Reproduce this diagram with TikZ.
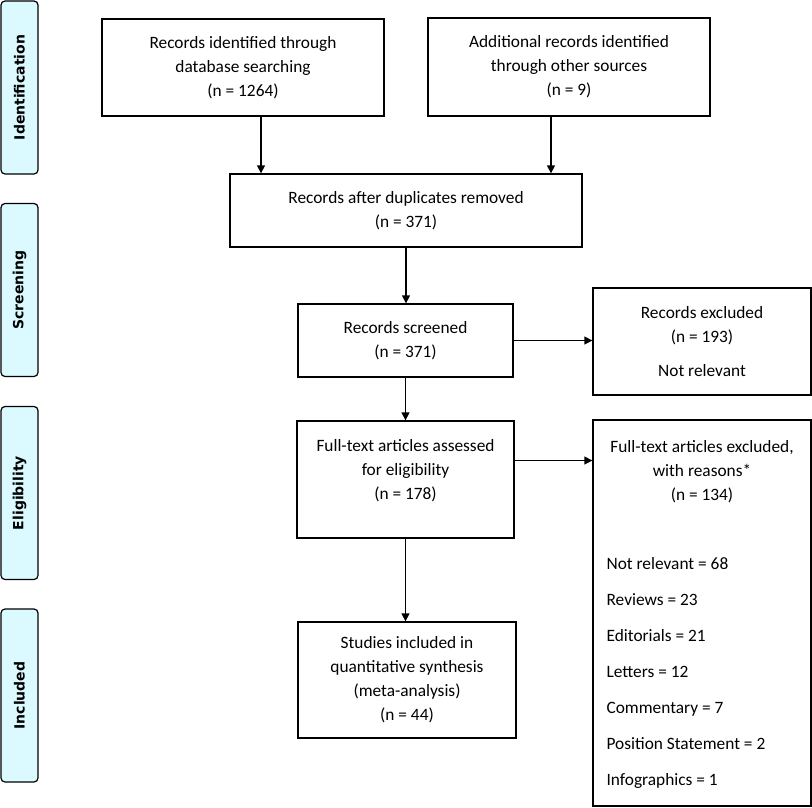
\documentclass[tikz,border=0pt]{standalone}
\usepackage{fontspec}
\setmainfont{Carlito}
\newfontfamily\barfont{DejaVu Sans}
\usetikzlibrary{arrows.meta,calc}
\definecolor{barcyan}{RGB}{218,250,255}

\begin{document}
\begin{tikzpicture}[x=0.75pt,y=-0.75pt]
\tikzstyle{every node}=[font=\fontsize{13}{18}\selectfont]
\tikzstyle{box}=[draw, line width=1pt, align=center, inner sep=0pt]
\tikzstyle{bar}=[draw, line width=0.9pt, fill=barcyan, rounded corners=3pt, rotate=90, inner sep=0pt, minimum width=129.75pt, minimum height=27.75pt, font=\barfont\bfseries\fontsize{10.5}{12}\selectfont]
\tikzstyle{arr}=[line width=1pt, -{Triangle[length=6pt,width=6pt]}]
	\useasboundingbox (0,0) rectangle (812,807);

	% phase bars on the left
	\node[bar] (identbar) at (19.5,87.5) {Identification};
	\node[bar] (screenbar) at (19.5,290) {Screening};
	\node[bar] (eligbar) at (19.5,493) {Eligibility};
	\node[bar] (inclbar) at (19.5,695.5) {Included};

	% boxes
	\node[box, minimum width=211.5pt, minimum height=72.75pt] (rec1) at (243,67.5) {Records identified through\\database searching\\(n = 1264)};
	\node[box, minimum width=211.5pt, minimum height=73.5pt] (rec2) at (569,67) {Additional records identified\\through other sources\\(n = 9)};
	\node[box, minimum width=264pt, minimum height=54.75pt] (dedup) at (406,210.5) {Records after duplicates removed\\(n = 371)};
	\node[box, minimum width=161.25pt, minimum height=54.75pt] (screened) at (405.5,340.5) {Records screened\\(n = 371)};
	\node[box, minimum width=163.5pt, minimum height=80.25pt] (excl1) at (702,341.5) {Records excluded\\(n = 193)\\[7.5pt]Not relevant};
	\node[box, minimum width=162.75pt, minimum height=87.75pt] (fulltext) at (405.5,479.5) {Full-text articles assessed\\for eligibility\\(n = 178)\\[-9pt]\strut};
	\node[box, minimum width=163.5pt, minimum height=289.5pt] (excl2) at (702,613) {};
	\node[align=center, inner sep=0pt, anchor=north] (excl2head) at ($(excl2.north)+(0,21)$) {Full-text articles excluded,\\with reasons*\\(n = 134)};
	\node[align=left, inner sep=0pt, anchor=north west, font=\fontsize{13}{27}\selectfont] (excl2list) at ($(excl2.north west)+(14,138)$) {Not relevant = 68\\Reviews = 23\\Editorials = 21\\Letters = 12\\Commentary = 7\\Position Statement = 2\\Infographics = 1};
	\node[box, minimum width=163.5pt, minimum height=87pt] (included) at (407,680) {Studies included in\\quantitative synthesis\\(meta-analysis)\\(n = 44)};

	% arrows
	\coordinate (a1) at ($(rec1.south)+(18,0)$);
	\coordinate (a2) at ($(rec2.south)+(-18,0)$);
	\coordinate (a3) at ($(fulltext.east)+(0,-19)$);
	\draw[arr] (a1) -- (a1 |- dedup.north);
	\draw[arr] (a2) -- (a2 |- dedup.north);
	\draw[arr] (dedup.south) -- (dedup.south |- screened.north);
	\draw[arr] (screened.east) -- (screened.east -| excl1.west);
	\draw[arr] (screened.south) -- (screened.south |- fulltext.north);
	\draw[arr] (a3) -- (a3 -| excl2.west);
	\draw[arr] (fulltext.south) -- (fulltext.south |- included.north);
\end{tikzpicture}
\end{document}
